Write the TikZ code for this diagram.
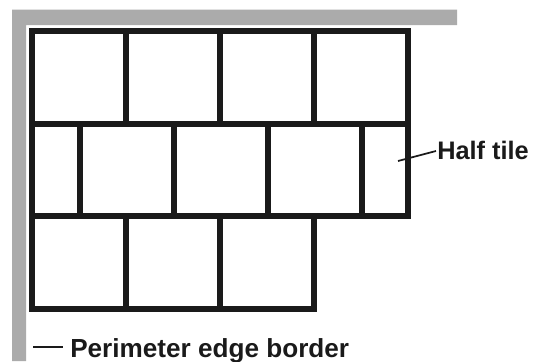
\documentclass[tikz,border=0pt]{standalone}
\usepackage{fontspec}
\setmainfont{Liberation Sans}
\usetikzlibrary{calc}
\definecolor{bordergray}{HTML}{ABABAB}
\definecolor{tileink}{HTML}{1A1A1A}
\begin{document}
\begin{tikzpicture}[x=0.75pt,y=-0.75pt,
  tile/.style={draw=tileink,line width=3.9pt,line join=miter},
  lbl/.style={inner sep=0pt,anchor=base west,text=tileink,font=\bfseries\fontsize{19pt}{20pt}\selectfont},
  leader/.style={draw=tileink,line width=1.3pt}]
\useasboundingbox (0,0) rectangle (536,361);
% perimeter edge border (gray L-shaped band)
\fill[bordergray] (12,9.5) -- (457,9.5) -- (457,25) -- (26,25) -- (26,361) -- (12,361) -- cycle;
% row 1
\foreach \a/\b in {32/126,126/220,220/314,314/408}
  \draw[tile] (\a,31) rectangle (\b,124);
% row 2
\foreach \a/\b in {32/80,80/174,174/268,268/362,362/408}
  \draw[tile] (\a,124) rectangle (\b,216);
% row 3
\foreach \a/\b in {32/126,126/220,220/314}
  \draw[tile] (\a,216) rectangle (\b,309);
% labels
\node[lbl] (half) at (437,159) {Half tile};
\coordinate (halfend) at (398,161);
\draw[leader] (halfend) -- ($(half.west |- 0,151)+(-1,0)$);
\node[lbl,font=\bfseries\fontsize{19.6pt}{21pt}\selectfont] (perim) at (70,357) {Perimeter edge border};
\coordinate (perimend) at (33,347);
\draw[leader,line width=1.5pt] (perimend) -- ($(perim.west |- 0,347)+(-7,0)$);
\end{tikzpicture}
\end{document}
